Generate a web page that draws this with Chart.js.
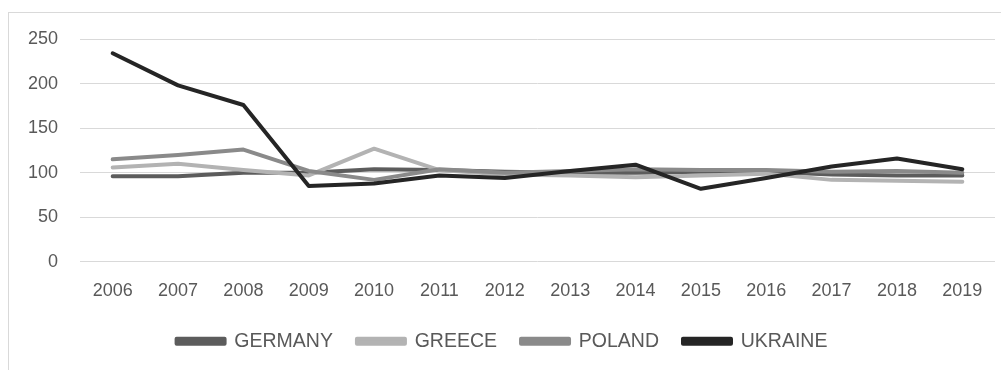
<!DOCTYPE html>
<html>
<head>
<meta charset="utf-8">
<script src="https://cdn.jsdelivr.net/npm/chart.js@4/dist/chart.umd.min.js"></script>
<style>
  html, body { margin: 0; padding: 0; background: #ffffff; }
  #box { position: absolute; left: 8px; top: 12px; width: 1000px; height: 370px; border: 1px solid #d9d9d9; box-sizing: border-box; }
  #wrap { position: absolute; left: 0; top: 0; width: 998px; height: 368px; }
</style>
</head>
<body>
<div id="box"><div id="wrap"><canvas id="c"></canvas></div></div>
<script>
const years = ['2006','2007','2008','2009','2010','2011','2012','2013','2014','2015','2016','2017','2018','2019'];
const germany = [96, 96, 100, 100, 104, 103, 101, 100, 100, 101, 101, 98, 97, 97];
const greece  = [106, 110, 103, 97, 127, 103, 98, 97, 95, 97, 99, 92, 91, 90];
const poland  = [115, 120, 126, 102, 92, 104, 100, 102, 104, 103, 103, 101, 102, 100];
const ukraine = [234, 198, 176, 85, 88, 97, 94, 102, 109, 82, 94, 107, 116, 104];
const yTicks = [0, 50, 100, 150, 200, 250];

const ds = (label, data, color, order) => ({
  label, data, borderColor: color, backgroundColor: color,
  borderWidth: 4, pointRadius: 0, tension: 0, fill: false, order,
  borderJoinStyle: 'round', borderCapStyle: 'round'
});

new Chart(document.getElementById('c'), {
  type: 'line',
  data: {
    labels: years,
    datasets: [
      ds('GERMANY', germany, '#5c5c5c', 3),
      ds('GREECE', greece, '#b3b3b3', 2),
      ds('POLAND', poland, '#8a8a8a', 1),
      ds('UKRAINE', ukraine, '#252525', 0)
    ]
  },
  options: {
    responsive: true,
    maintainAspectRatio: false,
    animation: false,
    layout: { padding: { top: 26, right: 12, left: 0, bottom: 20 } },
    plugins: {
      tooltip: { enabled: false },
      legend: {
        position: 'bottom',
        labels: {
          color: '#595959',
          font: { family: 'Liberation Sans', size: 19.5 },
          boxWidth: 48,
          boxHeight: 5,
          padding: 24,
          sort: (a, b) => a.datasetIndex - b.datasetIndex
        }
      }
    },
    scales: {
      x: {
        offset: true,
        afterFit: (axis) => { axis.height = axis.height - 12; },
        grid: { display: false, drawTicks: false },
        border: { display: false },
        ticks: { color: '#595959', font: { family: 'Liberation Sans', size: 18 }, padding: 18, maxRotation: 0, autoSkip: false }
      },
      y: {
        min: 0, max: 250,
        afterBuildTicks: (axis) => { axis.ticks = yTicks.map(v => ({ value: v })); },
        afterFit: (axis) => { axis.width = 71; axis.paddingTop = 0; },
        grid: { color: '#d9d9d9', lineWidth: 1, drawTicks: false },
        border: { display: false },
        ticks: { color: '#595959', font: { family: 'Liberation Sans', size: 18 }, padding: 22 }
      }
    }
  }
});
</script>
</body>
</html>
